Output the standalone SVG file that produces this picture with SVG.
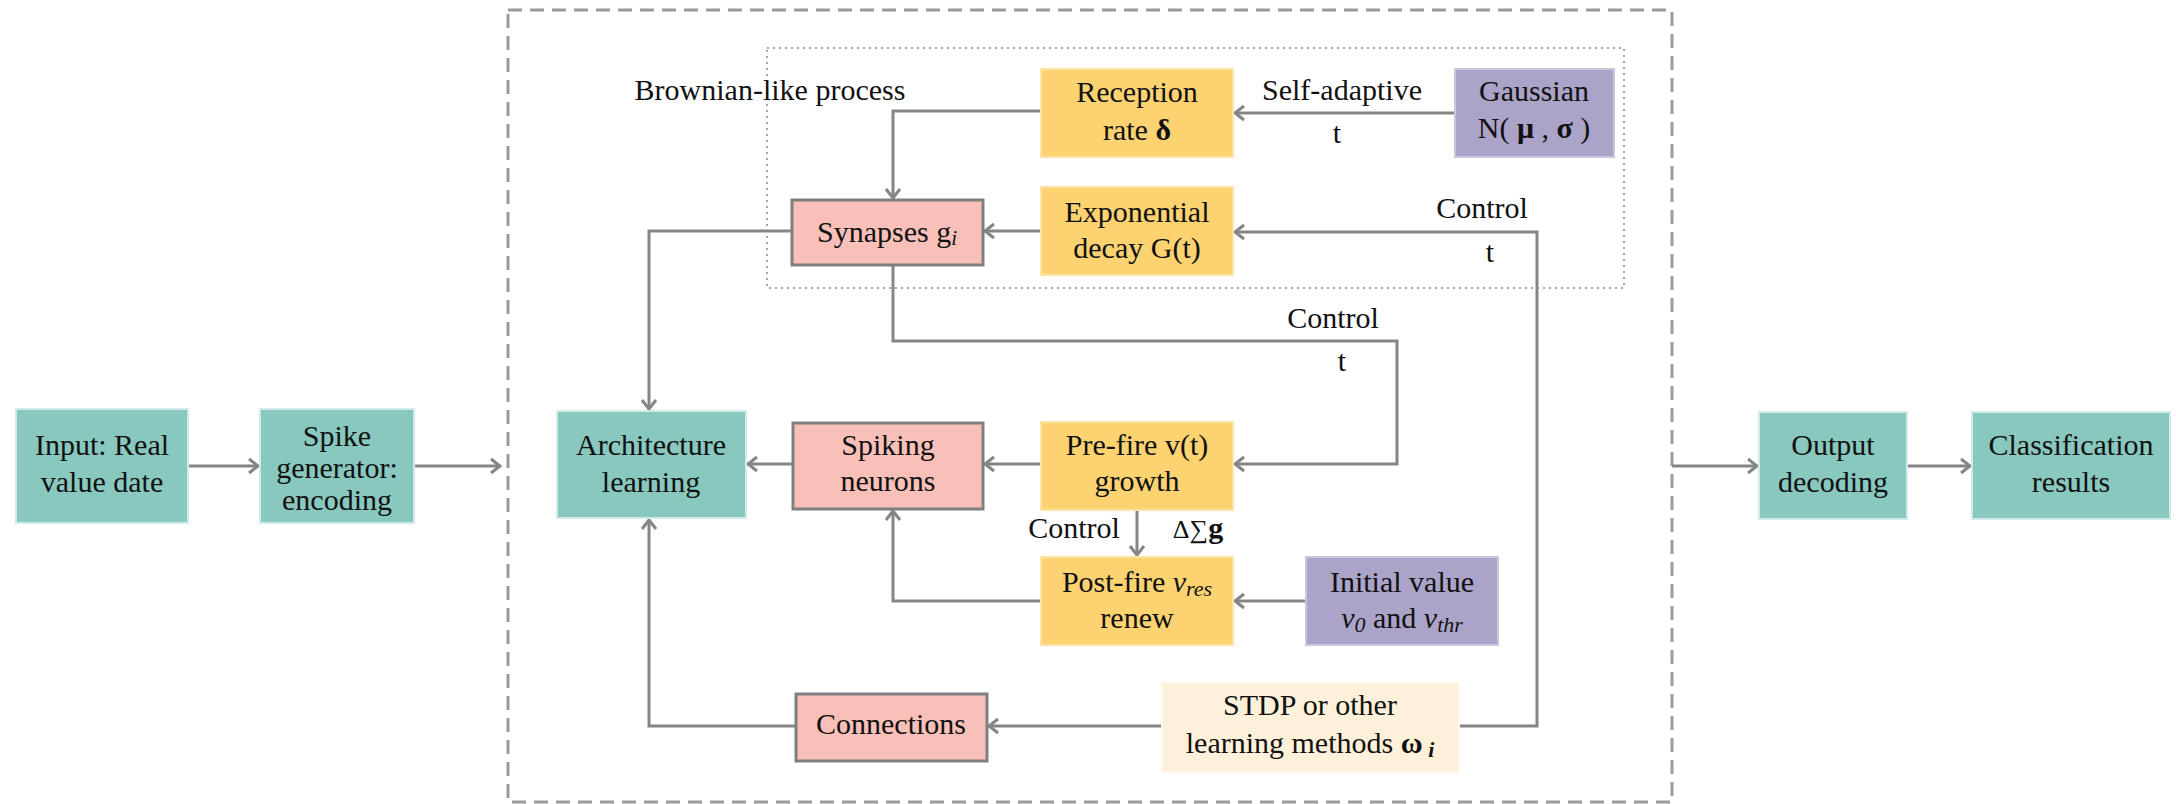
<svg xmlns="http://www.w3.org/2000/svg" width="2176" height="804" viewBox="0 0 2176 804">
<defs>
<style>
text{font-family:"Liberation Serif","Times New Roman",serif;font-size:30px;fill:#111;text-anchor:middle}
.teal{fill:#88C8BE;stroke:#d3ebe8;stroke-width:2}
.yel{fill:#FDD271;stroke:#fde3a6;stroke-width:2}
.pink{fill:#F8C0B8;stroke:#7f7f7f;stroke-width:3}
.pur{fill:#ABA3C8;stroke:#cbc6dd;stroke-width:2}
.cream{fill:#FFF1D9;stroke:#fff6e8;stroke-width:2}
.ln{fill:none;stroke:#858585;stroke-width:3}
.arr{marker-end:url(#ah)}
.it{font-style:italic}
.b{font-weight:bold}
</style>
<marker id="ah" markerUnits="userSpaceOnUse" markerWidth="12" markerHeight="18" viewBox="0 0 12 18" refX="11" refY="9" orient="auto" overflow="visible">
<path d="M2,2 L11,9 L2,16" fill="none" stroke="#858585" stroke-width="3"/>
</marker>
</defs>
<rect width="2176" height="804" fill="#ffffff"/>

<g id="frames">
<rect x="508" y="10" width="1164" height="792" fill="none" stroke="#9a9a9a" stroke-width="3" stroke-dasharray="14 8"/>
<rect x="767" y="48" width="857" height="240" fill="none" stroke="#a5a5a5" stroke-width="2" stroke-dasharray="2 4"/>
</g>

<g id="connectors">
<path class="ln arr" d="M188,466 H258"/>
<path class="ln arr" d="M414,466 H500"/>
<path class="ln arr" d="M1672,466 H1757"/>
<path class="ln arr" d="M1907,466 H1970"/>
<path class="ln arr" d="M1455,113 H1235"/>
<path class="ln arr" d="M1041,111 H893 V198"/>
<path class="ln arr" d="M1041,231 H985"/>
<path class="ln arr" d="M1459,726 H1537 V232 H1235"/>
<path class="ln arr" d="M792,231 H649 V409"/>
<path class="ln arr" d="M893,265 V341 H1397 V464 H1235"/>
<path class="ln arr" d="M1041,464 H985"/>
<path class="ln arr" d="M793,464 H748"/>
<path class="ln arr" d="M1137,510 V555"/>
<path class="ln arr" d="M1041,601 H893 V511"/>
<path class="ln arr" d="M1306,601 H1235"/>
<path class="ln arr" d="M1161,726 H989"/>
<path class="ln arr" d="M796,726 H649 V520"/>
</g>

<g id="edge-labels">
<text x="770" y="100">Brownian-like process</text>
<text x="1342" y="100">Self-adaptive</text>
<text x="1337" y="143">t</text>
<text x="1482" y="218">Control</text>
<text x="1490" y="262">t</text>
<text x="1333" y="328">Control</text>
<text x="1342" y="371">t</text>
<text x="1074" y="538">Control</text>
<text x="1198" y="538"><tspan font-size="26">Δ∑</tspan><tspan class="b">g</tspan></text>
</g>

<g id="input">
<rect class="teal" x="16" y="409" width="172" height="114"/>
<text x="102" y="455">Input: Real</text>
<text x="102" y="492">value date</text>
</g>
<g id="spike-generator">
<rect class="teal" x="260" y="409" width="154" height="114"/>
<text x="337" y="446">Spike</text>
<text x="337" y="478">generator:</text>
<text x="337" y="510">encoding</text>
</g>
<g id="architecture">
<rect class="teal" x="557" y="411" width="189" height="107"/>
<text x="651" y="455">Architecture</text>
<text x="651" y="492">learning</text>
</g>
<g id="synapses">
<rect class="pink" x="792" y="200" width="191" height="65"/>
<text x="887" y="242">Synapses g<tspan class="it" font-size="21" dy="3">i</tspan></text>
</g>
<g id="reception">
<rect class="yel" x="1041" y="69" width="192" height="88"/>
<text x="1137" y="102">Reception</text>
<text x="1137" y="140">rate  <tspan class="b">δ</tspan></text>
</g>
<g id="gaussian">
<rect class="pur" x="1455" y="69" width="159" height="88"/>
<text x="1534" y="101">Gaussian</text>
<text x="1534" y="138">N( <tspan class="b">μ</tspan> , <tspan class="b">σ</tspan> )</text>
</g>
<g id="exponential">
<rect class="yel" x="1041" y="187" width="192" height="88"/>
<text x="1137" y="222">Exponential</text>
<text x="1137" y="258">decay G(t)</text>
</g>
<g id="spiking">
<rect class="pink" x="793" y="423" width="190" height="86"/>
<text x="888" y="455">Spiking</text>
<text x="888" y="491">neurons</text>
</g>
<g id="prefire">
<rect class="yel" x="1041" y="422" width="192" height="88"/>
<text x="1137" y="455">Pre-fire v(t)</text>
<text x="1137" y="491">growth</text>
</g>
<g id="postfire">
<rect class="yel" x="1041" y="557" width="192" height="88"/>
<text x="1137" y="592">Post-fire <tspan class="it">v</tspan><tspan class="it" font-size="22" dy="4">res</tspan></text>
<text x="1137" y="628">renew</text>
</g>
<g id="initial">
<rect class="pur" x="1306" y="557" width="192" height="88"/>
<text x="1402" y="592">Initial value</text>
<text x="1402" y="628"><tspan class="it">v</tspan><tspan class="it" font-size="22" dy="4">0</tspan><tspan dy="-4"> and </tspan><tspan class="it">v</tspan><tspan class="it" font-size="22" dy="4">thr</tspan></text>
</g>
<g id="connections">
<rect class="pink" x="796" y="694" width="191" height="67"/>
<text x="891" y="734">Connections</text>
</g>
<g id="stdp">
<rect class="cream" x="1162" y="683" width="297" height="89"/>
<text x="1310" y="715">STDP or other</text>
<text x="1310" y="753">learning methods  <tspan class="b">ω</tspan><tspan class="b it" font-size="22" dy="4"> i</tspan></text>
</g>
<g id="output">
<rect class="teal" x="1759" y="412" width="148" height="107"/>
<text x="1833" y="455">Output</text>
<text x="1833" y="492">decoding</text>
</g>
<g id="classification">
<rect class="teal" x="1972" y="412" width="198" height="107"/>
<text x="2071" y="455">Classification</text>
<text x="2071" y="492">results</text>
</g>
</svg>
